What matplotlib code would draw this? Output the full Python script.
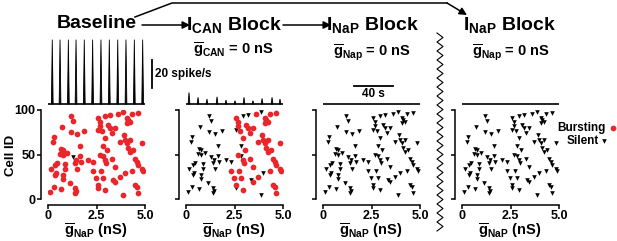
import matplotlib
matplotlib.use("Agg")
import matplotlib.pyplot as plt
import numpy as np

plt.rcParams['font.family'] = ['Liberation Sans', 'DejaVu Sans']
plt.rcParams['font.weight'] = 'bold'
plt.rcParams['mathtext.fontset'] = 'custom'
plt.rcParams['mathtext.rm'] = 'Liberation Sans:bold'
plt.rcParams['mathtext.it'] = 'Liberation Sans:bold'
plt.rcParams['mathtext.bf'] = 'Liberation Sans:bold'

RED = '#e8262b'

# the same 96 cells in every panel
g_nap = [1.21, 1.29, 1.16, 0.74, 0.31, 0.26, 1.50, 1.86, 1.64, 0.66,
         0.78, 0.60, 0.78, 0.98, 0.47, 0.34, 0.17, 0.86, 0.86, 1.43,
         1.64, 1.72, 1.50, 0.43, 0.34, 0.78, 0.78, 1.12, 0.66, 0.29,
         0.09, 1.38, 1.43, 1.38, 2.07, 2.33, 1.29, 2.59, 2.67, 2.67,
         2.93, 3.19, 2.59, 2.76, 2.93, 3.10, 3.19, 3.28, 3.45, 3.62,
         3.88, 4.05, 4.14, 4.05, 4.22, 4.31, 4.66, 3.90, 3.71, 3.97,
         4.05, 4.22, 4.14, 4.22, 4.40, 2.84, 3.02, 4.83, 2.84, 2.93,
         2.98, 3.28, 3.45, 2.67, 4.48, 4.57, 4.66, 4.83, 4.91, 4.31,
         2.72, 2.33, 2.47, 2.59, 2.59, 3.36, 3.45, 3.71, 3.97, 2.93,
         3.88, 4.48, 4.57, 4.66, 2.84, 1.38]
cell_id = [93, 88, 75, 81, 70, 64, 73, 76, 59, 56,
           55, 51, 50, 52, 40, 38, 34, 39, 34, 44,
           48, 42, 34, 29, 27, 27, 22, 18, 11, 13,
           8, 12, 9, 7, 44, 42, 47, 91, 87, 82,
           93, 94, 78, 76, 68, 83, 80, 74, 80, 96,
           98, 91, 89, 85, 87, 96, 97, 72, 64, 66,
           63, 66, 57, 53, 55, 59, 55, 63, 48, 44,
           40, 45, 36, 49, 45, 42, 38, 34, 31, 32,
           31, 31, 24, 16, 12, 21, 19, 25, 29, 10,
           4, 16, 14, 7, 24, 40]
# 1 = bursting, 0 = silent
burst_base = [1, 1, 1, 1, 1, 1, 1, 1, 1, 1,
              1, 1, 1, 1, 1, 1, 1, 1, 1, 1,
              1, 1, 1, 1, 1, 1, 1, 1, 1, 1,
              1, 1, 1, 1, 1, 1, 0, 1, 1, 1,
              1, 1, 1, 1, 1, 1, 1, 1, 1, 1,
              1, 1, 1, 1, 1, 1, 1, 1, 1, 1,
              1, 1, 1, 1, 1, 1, 1, 1, 1, 1,
              1, 1, 1, 1, 1, 1, 1, 1, 1, 1,
              1, 1, 1, 1, 1, 1, 1, 1, 1, 1,
              1, 1, 1, 1, 1, 1]
burst_can = [0, 0, 0, 0, 0, 0, 0, 0, 0, 0,
             0, 0, 0, 0, 0, 0, 0, 0, 0, 0,
             0, 0, 0, 0, 0, 0, 0, 0, 0, 0,
             0, 0, 0, 0, 0, 0, 0, 1, 1, 1,
             0, 0, 0, 1, 1, 1, 1, 1, 1, 1,
             0, 1, 1, 1, 1, 1, 1, 1, 1, 1,
             1, 1, 1, 1, 1, 0, 1, 1, 0, 1,
             1, 1, 1, 1, 1, 1, 1, 1, 1, 1,
             1, 1, 1, 1, 0, 0, 1, 1, 0, 1,
             0, 1, 1, 1, 1, 0]
burst_none = [0] * len(g_nap)

# population rate traces (spike/s), time in s
base_spike_t = [4.4, 12.4, 21.0, 28.9, 37.4, 46.0, 54.6, 63.2, 71.9, 80.4, 89.0, 97.6]
base_spike_h = [46, 46, 46, 46, 46, 46, 46, 46, 46, 46, 46, 46]
can_spike_t = [3.1, 12.4, 21.6, 32.0, 41.2, 50.5, 59.8, 69.0, 78.4, 88.7, 96.9]
can_spike_h = [8.3, 4.8, 3.6, 5.2, 2.9, 2.4, 4.8, 2.4, 4.0, 4.8, 3.6]

W, H = 617, 241
fig = plt.figure(figsize=(W / 100, H / 100), dpi=100)


def frac(x0, y_top, w, h):
    return [x0 / W, (H - y_top - h) / H, w / W, h / H]


panel_x = [48, 186, 323, 462]
statuses = [burst_base, burst_can, burst_none, burst_none]
spikes = [(base_spike_t, base_spike_h), (can_spike_t, can_spike_h), ([], []), ([], [])]

g_arr = np.array(g_nap)
id_arr = np.array(cell_id)

for k, x0 in enumerate(panel_x):
    ax = fig.add_axes(frac(x0, 110, 97, 89))
    st = np.array(statuses[k]) == 1
    ax.scatter(g_arr[~st], id_arr[~st], marker='v', s=11, color='k', lw=0)
    ax.scatter(g_arr[st], id_arr[st], marker='o', s=17, color=RED, lw=0)
    ax.set_xlim(0, 5.0)
    ax.set_ylim(0, 100)
    for s in ['top', 'right']:
        ax.spines[s].set_visible(False)
    ax.spines['left'].set_position(('outward', 5))
    ax.spines['bottom'].set_position(('outward', 4))
    ax.spines['left'].set_linewidth(1.1)
    ax.spines['bottom'].set_linewidth(1.1)
    ax.set_xticks([0, 2.5, 5.0])
    ax.set_xticklabels(['0', '2.5', '5.0'])
    ax.set_yticks([0, 50, 100])
    ax.tick_params(width=1.1, length=3, labelsize=9, pad=1)
    if k > 0:
        ax.set_yticklabels([])

    # rate trace
    tr = fig.add_axes(frac(x0, 35, 97, 71))
    tr.axis('off')
    tr.set_xlim(0, 100)
    tr.set_ylim(-1.4, 49.3)
    tr.plot([0, 100], [0, 0], color='k', lw=1.2, solid_capstyle='butt')
    for t, h in zip(*spikes[k]):
        tr.fill([t - 0.9, t, t + 0.9], [0, h, 0], color='k', lw=0.6)

# overlay in pixel coordinates for titles, labels, arrows and scale bars
ov = fig.add_axes([0, 0, 1, 1])
ov.set_xlim(0, W)
ov.set_ylim(H, 0)
ov.axis('off')

ov.text(11, 155, 'Cell ID', fontsize=9.5, rotation=90, ha='center', va='center')
for x0 in panel_x:
    ov.text(x0 + 48, 231.5, r'$\overline{\mathrm{g}}_{\mathrm{NaP}}$ (nS)',
            fontsize=10.5, ha='center', va='center')

ov.text(97, 23, 'Baseline', fontsize=14, ha='center', va='center')
ov.text(234, 25, r'I$_{\mathrm{CAN}}$ Block', fontsize=14, ha='center', va='center')
ov.text(373, 25, r'I$_{\mathrm{NaP}}$ Block', fontsize=14, ha='center', va='center')
ov.text(510, 25, r'I$_{\mathrm{NaP}}$ Block', fontsize=14, ha='center', va='center')
ov.text(233, 50, r'$\overline{\mathrm{g}}_{\mathrm{CAN}}$ = 0 nS', fontsize=10.5, ha='center', va='center')
ov.text(372, 52, r'$\overline{\mathrm{g}}_{\mathrm{Nap}}$ = 0 nS', fontsize=10.5, ha='center', va='center')
ov.text(511, 52, r'$\overline{\mathrm{g}}_{\mathrm{Nap}}$ = 0 nS', fontsize=10.5, ha='center', va='center')

arrow = dict(arrowstyle='-|>', color='k', lw=1.1, mutation_scale=11, shrinkA=0, shrinkB=0)
ov.annotate('', xy=(190, 25), xytext=(142, 25), arrowprops=arrow)
ov.annotate('', xy=(331, 25), xytext=(283, 25), arrowprops=arrow)
ov.plot([135, 172, 447], [17, 3, 3], color='k', lw=1.1)
ov.annotate('', xy=(467, 15), xytext=(447, 3), arrowprops=arrow)

# scale bars
ov.plot([152, 152], [60, 88], color='k', lw=1.3)
ov.text(155, 74, '20 spike/s', fontsize=8.5, ha='left', va='center')
ov.plot([354, 393], [86, 86], color='k', lw=1.3)
ov.text(373, 94, '40 s', fontsize=8.5, ha='center', va='center')

# break zigzag
zy = np.arange(33, 233, 4.5)
zx = np.where(np.arange(len(zy)) % 2 == 0, 437, 443)
ov.plot(zx, zy, color='k', lw=0.8)

# legend
ov.text(606, 128, 'Bursting', fontsize=8.5, ha='right', va='center')
ov.scatter([613], [128], marker='o', s=17, color=RED, lw=0)
ov.text(599, 141, 'Silent', fontsize=8.5, ha='right', va='center')
ov.scatter([604], [141], marker='v', s=11, color='k', lw=0)

fig.savefig('out.png', dpi=100)
